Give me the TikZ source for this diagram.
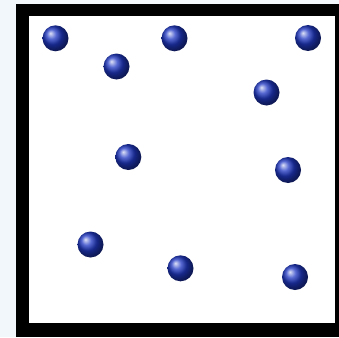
\documentclass[tikz,border=0pt]{standalone}
\usepackage{tikz}
\usetikzlibrary{positioning}
\definecolor{paleback}{HTML}{F2F7FC}
\definecolor{ballblue}{RGB}{32,56,196}
\tikzset{
    % shaded particle inside the box
    particle/.style={circle, shading=ball, ball color=ballblue, inner sep=0pt, minimum size=26pt},
    % thick black wall of the container
    wall/.style={fill=black},
}

\begin{document}
\begin{tikzpicture}[x=1pt, y=-1pt]

    % ---- background and frame ----
    \fill[paleback] (0, 0) rectangle (339, 337);
    \useasboundingbox (0, 0) rectangle (339, 337);
    \fill[wall] (15.5, 4) rectangle (339, 337);
    \fill[white] (29, 16.5) rectangle (335, 323);

    % ---- particles ----
    \foreach \n/\x/\y in {p1/55.5/38.3, p2/116.5/66.5, p3/174.5/38.3, p4/308/38,
                          p5/266.5/92.5, p6/128.3/157, p7/288/170,
                          p8/90.5/244.5, p9/180.5/268.3, p10/295/277}{
        \node[particle] (\n) at (\x, \y) {};
    }

\end{tikzpicture}
\end{document}
